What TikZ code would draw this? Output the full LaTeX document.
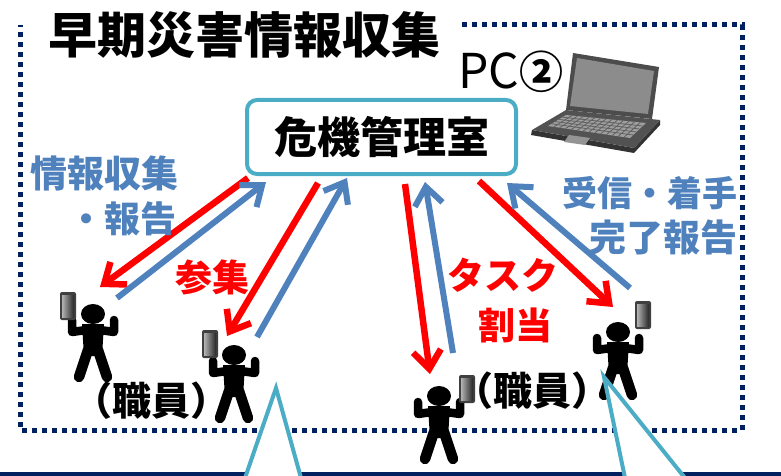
\documentclass[tikz,border=0pt]{standalone}
\usepackage{fontspec}
\usetikzlibrary{arrows.meta}
\newfontfamily\jpfont{Noto Sans CJK JP}
\definecolor{roomline}{HTML}{4BACC6}
\definecolor{askblue}{HTML}{4F81BD}
\definecolor{navy}{HTML}{002060}

% a member of staff (origin = centre of the head)
\tikzset{
  staff/.pic={
    \fill (0,0) ellipse (12 and 10);
    \fill (-11,10) -- (11,10) -- (9,42) -- (-9,42) -- cycle;
    \draw[line width=8.5pt,line cap=round,line join=round] (-7,16) -- (-21,18) -- (-21,6);
    \draw[line width=8.5pt,line cap=round,line join=round] (7,16) -- (21,18) -- (21,6);
    \draw[line width=10.5pt,line cap=round] (-5,36) -- (-14,63) (5,36) -- (14,63);
  },
  phone/.pic={
    \fill[black!75,rounded corners=2pt] (-8,-14) rectangle (8,14);
    \shade[left color=black!30,right color=black!85] (-6,-11) rectangle (6,11);
  }
}

\begin{document}
\begin{tikzpicture}[x=1pt,y=-1pt,
    jp/.style={inner sep=0pt,font=\jpfont\bfseries\fontsize{#1}{#1}\selectfont},
    redarr/.style={draw=red,line width=6.5pt,-{Straight Barb[length=18pt,width=28pt]}},
    bluearr/.style={draw=askblue,line width=6pt,-{Straight Barb[length=18pt,width=28pt]}}]
  \useasboundingbox (0,0) rectangle (781,476);

  % dotted frame and the bar at the foot
  \draw[navy,line width=5pt,dash pattern=on 5pt off 5pt] (462,25) -- (742,25) -- (742,430) -- (20,430) -- (20,25);
  \fill[navy] (0,472) rectangle (781,476);

  \node[jp=49] (title) at (244,35) {早期災害情報収集};

  % laptop
  \fill[black!70] (573,53) -- (659,67) -- (652,119) -- (566,110) -- cycle;
  \fill[black!45] (577,58) -- (654,71) -- (648,114) -- (570,106) -- cycle;
  \fill[black!80] (532,130) -- (634,148) -- (660,120) -- (660,125) -- (634,153) -- (531,135) -- cycle;
  \fill[black!68] (566,110) -- (660,120) -- (634,148) -- (532,130) -- cycle;
  \fill[black!38] (566,115) -- (646,123) -- (630,138) -- (548,126) -- cycle;
  \foreach \i in {1,...,4}
    \draw[black!62,line width=0.8pt] ({566-18*\i/5},{115+11*\i/5}) -- ({646-16*\i/5},{123+15*\i/5});
  \foreach \j in {1,...,13}
    \draw[black!62,line width=0.8pt] ({566+80*\j/14},{115+8*\j/14}) -- ({548+82*\j/14},{126+12*\j/14});
  \fill[black!42] (569,135) -- (590,138) -- (585,145) -- (564,142) -- cycle;
  \node[inner sep=0pt,font=\jpfont\fontsize{48}{48}\selectfont] (pc) at (511,72) {PC{\bfseries\fontsize{44}{44}\selectfont ②}};

  \node[draw=roomline,line width=4pt,rounded corners=10pt,fill=white,
        minimum width=269pt,minimum height=74pt,jp=43] (room) at (381.5,137) {危機管理室};

  % arrow ends at the room
  \coordinate (r1) at (248,178); \coordinate (b1) at (266,182);
  \coordinate (r2) at (318,183); \coordinate (b2) at (347,178);
  \coordinate (r3) at (405,184); \coordinate (b3) at (425,182);
  \coordinate (r4) at (479,181); \coordinate (b4) at (507,183);
  % arrow ends at the staff
  \coordinate (s1) at (100,287); \coordinate (t1) at (117,298);
  \coordinate (s2) at (227,336); \coordinate (t2) at (257,337);
  \coordinate (s3) at (430,374); \coordinate (t3) at (453,353);
  \coordinate (s4) at (613,307); \coordinate (t4) at (630,288);

  \draw[redarr] (r1) -- (s1);  \draw[bluearr] (t1) -- (b1);
  \draw[redarr] (r2) -- (s2);  \draw[bluearr] (t2) -- (b2);
  \draw[redarr] (r3) -- (s3);  \draw[bluearr] (t3) -- (b3);
  \draw[redarr] (r4) -- (s4);  \draw[bluearr] (t4) -- (b4);

  % labels
  \node[jp=37,text=askblue] (collect) at (104,173) {情報収集};
  \node[jp=36,text=askblue,anchor=east] (report) at (177,219) {・報告};
  \node[jp=37,text=red] (gather) at (212,277) {参集};
  \node[jp=37,text=red] (task) at (503,275) {タスク};
  \node[jp=37,text=red] (assign) at (515,325) {割当};
  \node[jp=35,text=askblue,anchor=east] (recv) at (738,193) {受信・着手};
  \node[jp=37,text=askblue,anchor=east] (done) at (738,237) {完了報告};

  % staff with phones
  \pic at (93,314) {staff};  \pic at (68,306) {phone};
  \pic at (234,355) {staff}; \pic at (210,344) {phone};
  \pic at (439,396) {staff}; \pic at (467,389) {phone};
  \pic at (618,332) {staff}; \pic at (643,315) {phone};
  \node[jp=39] (staffL) at (151,401) {（職員）};
  \node[jp=39] (staffR) at (532,391) {（職員）};

  % tails of the callouts below
  \fill[white] (245,478) -- (276,388) -- (301,478) -- cycle;
  \draw[roomline,line width=4pt] (245,478) -- (276,388) -- (301,478);
  \fill[white] (625,478) -- (604,377) -- (685,478) -- cycle;
  \draw[roomline,line width=4pt] (625,478) -- (604,377) -- (685,478);
\end{tikzpicture}
\end{document}
